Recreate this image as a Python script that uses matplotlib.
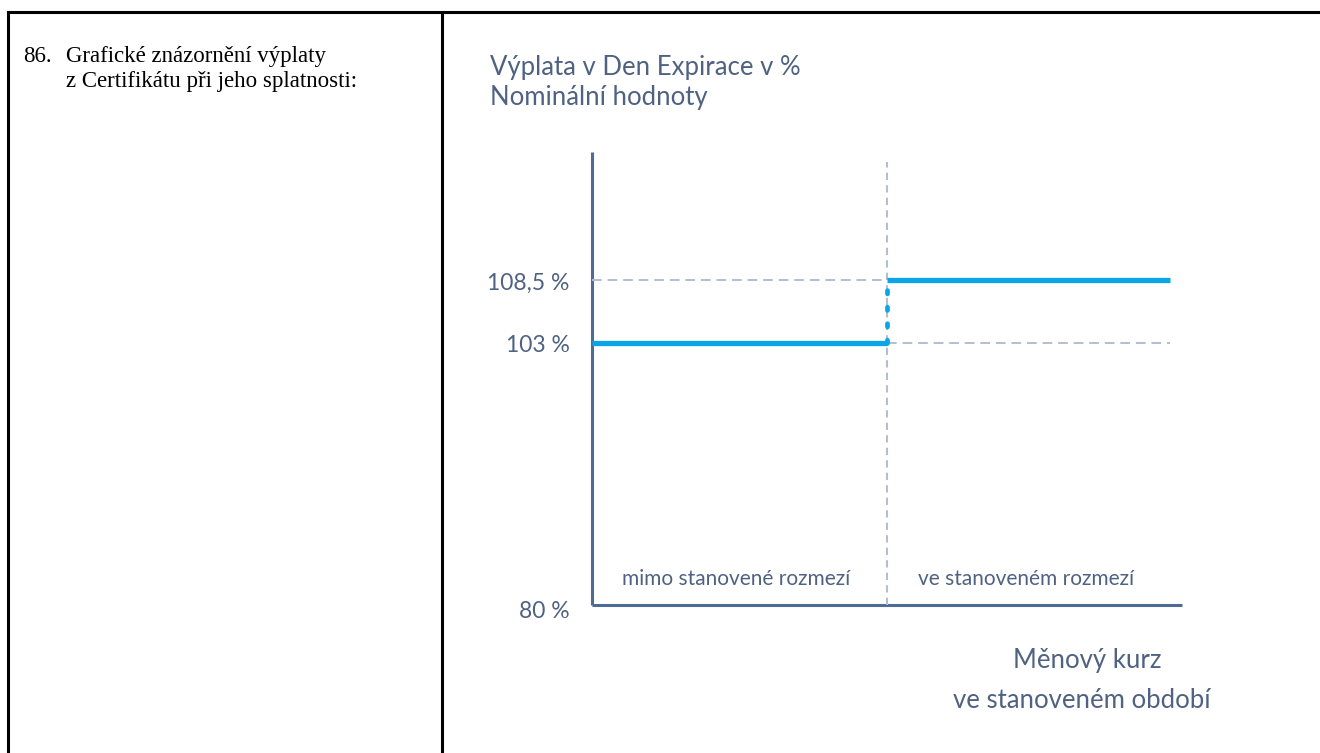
import matplotlib
matplotlib.use("Agg")
import matplotlib.pyplot as plt
from matplotlib.lines import Line2D

# ---- data ----
regions = ["mimo stanovené rozmezí", "ve stanoveném rozmezí"]
payout = [103.0, 108.5]          # % of nominal value
tick_values = [80.0, 103.0, 108.5]
tick_labels = ["80 %", "103 %", "108,5 %"]
x_split = 5.0
x_start, x_end = 0.0, 9.8
y_title = ["Výplata v Den Expirace v %", "Nominální hodnoty"]
x_title = ["Měnový kurz", "ve stanoveném období"]
left_num = "86."
left_text = ["Grafické znázornění výplaty", "z Certifikátu při jeho splatnosti:"]

W, H = 1320, 753
fig = plt.figure(figsize=(W / 100, H / 100), dpi=100)
fig.patch.set_facecolor("white")

def px(x, y):
    return x / W, 1 - y / H

# table borders
fig.add_artist(Line2D([px(8, 0)[0], 1.0], [px(0, 12)[1]] * 2, color="black", lw=2.2))
fig.add_artist(Line2D([px(8, 0)[0]] * 2, [px(0, 12)[1], 0], color="black", lw=2.2))
fig.add_artist(Line2D([px(442, 0)[0]] * 2, [px(0, 12)[1], 0], color="black", lw=2.2))

serif = "Liberation Serif"
fs_left = 16.5
fig.text(*px(23, 62), left_num, fontsize=fs_left, family=serif, va="baseline", ha="left")
fig.text(*px(66, 62), left_text[0], fontsize=fs_left, family=serif, va="baseline", ha="left")
fig.text(*px(66, 87), left_text[1], fontsize=fs_left, family=serif, va="baseline", ha="left")

# axes: x 592..1182 ; y 80 at 605
ax_l, ax_r = 592, 1182
ax_b = 605
ppu = (605 - 343) / 23.0
ymax = 121.0
ax_t = ax_b - (ymax - 80) * ppu
ax = fig.add_axes([ax_l / W, 1 - ax_b / H, (ax_r - ax_l) / W, (ax_b - ax_t) / H])
ax.set_xlim(0, 10)
ax.set_ylim(80, ymax)
ax.axis("off")
ax.patch.set_alpha(0)

axis_c = "#4d6b93"
grid_c = "#b4bdd2"
blue = "#0aa5e6"
txt_c = "#4f6282"
sans = "Lato"

y_axis_top = 80 + (605 - 152) / ppu
ax.plot([0, 0], [80, y_axis_top], color=axis_c, lw=2.2, solid_capstyle="butt", clip_on=False)
ax.plot([0, 10], [80, 80], color=axis_c, lw=2.2, solid_capstyle="butt", clip_on=False)

vtop = 80 + (605 - 162) / ppu
ax.plot([x_split, x_split], [80, vtop], color=grid_c, lw=1.5, ls=(0, (3.5, 2.5)), clip_on=False)
ax.plot([0, x_split], [payout[1]] * 2, color=grid_c, lw=1.4, ls=(0, (5, 3)))
ax.plot([x_split, x_end], [payout[0]] * 2, color=grid_c, lw=1.4, ls=(0, (5, 3)))

ax.plot([x_start, x_split], [payout[0]] * 2, color=blue, lw=3.8, solid_capstyle="butt")
ax.plot([x_split, x_end], [payout[1]] * 2, color=blue, lw=3.8, solid_capstyle="butt")
ax.plot([x_split, x_split], [payout[0], payout[1]], color=blue, lw=3.4, ls=(0, (0.7, 2.8)),
        dash_capstyle="round")

for v, lab in zip(tick_values, tick_labels):
    yy = v - 0.25 if v != 80 else 79.4
    ax.text(-0.38, yy, lab, ha="right", va="center", fontsize=16.5, color=txt_c, family=sans,
            clip_on=False)

ax.text(2.45, 80 + 26 / ppu, regions[0], ha="center", va="center", fontsize=15, color=txt_c, family=sans)
ax.text(7.35, 80 + 26 / ppu, regions[1], ha="center", va="center", fontsize=15, color=txt_c, family=sans)

fs_t = 18.5
fig.text(*px(490, 75), y_title[0], fontsize=fs_t, color=txt_c, family=sans, va="baseline")
fig.text(*px(490, 105), y_title[1], fontsize=fs_t, color=txt_c, family=sans, va="baseline")
fig.text(*px(1087, 668), x_title[0], fontsize=fs_t, color=txt_c, family=sans, va="baseline", ha="center")
fig.text(*px(1082, 708), x_title[1], fontsize=fs_t, color=txt_c, family=sans, va="baseline", ha="center")

fig.savefig("out.png", dpi=100, facecolor="white")
